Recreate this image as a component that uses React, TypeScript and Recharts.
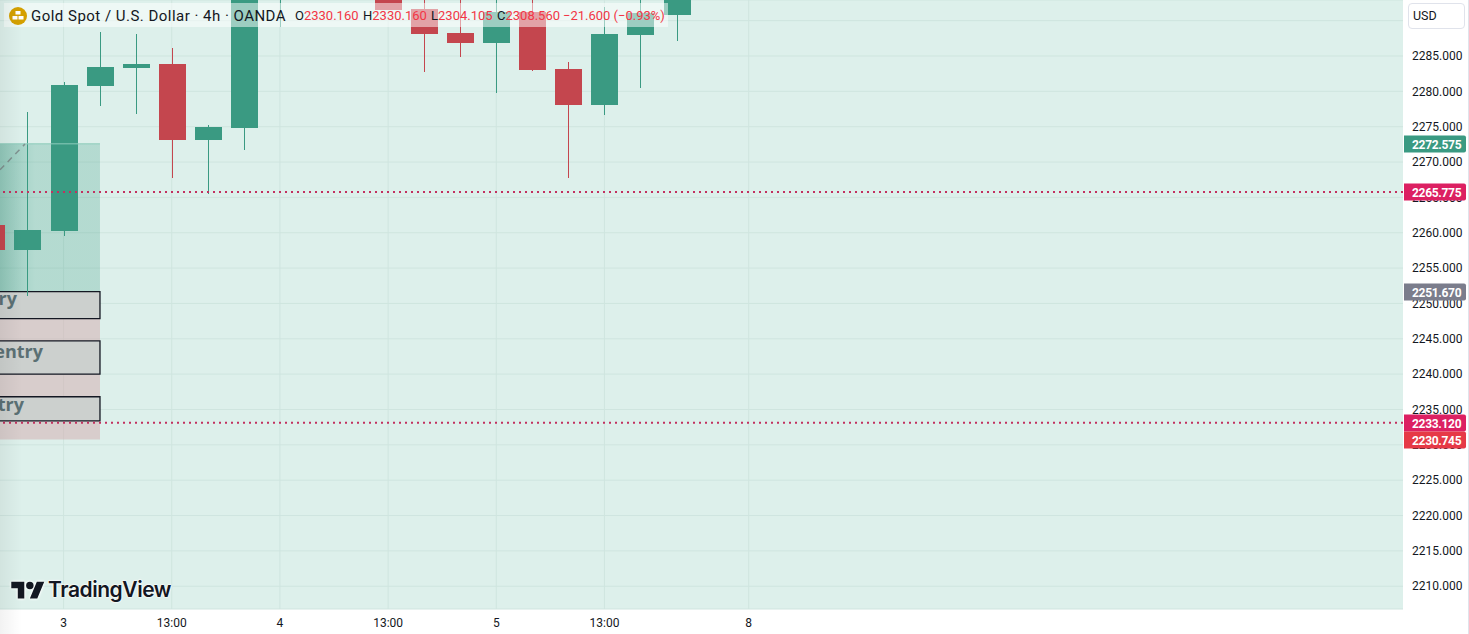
import { Bar, CartesianGrid, ComposedChart, ReferenceArea, ReferenceLine, XAxis, YAxis } from "recharts"

const slots = [0, 1, 2, 3, 4, 5, 6, 7, 8, 9, 10, 11, 12, 13, 14, 15, 16, 17, 18, 19]
const opens = [2261.1, 2257.56, 2260.25, 2280.76, 2283.3, 2283.87, 2273.1, 2274.82, 2296, 2304, 2300, 2300, 2291.65, 2288.25, 2286.84, 2291.2, 2283.16, 2278.07, 2287.97, 2290.8]
const highs = [2262, 2277.08, 2281.3, 2288.4, 2288.1, 2286.13, 2275.24, 2300, 2306, 2306, 2304, 2302, 2296, 2294, 2294, 2293.5, 2284.15, 2291.9, 2294, 2297]
const lows = [2256.5, 2251.05, 2259.5, 2277.93, 2276.8, 2267.74, 2265.48, 2271.7, 2289.1, 2299, 2296, 2291.5, 2282.74, 2284.86, 2279.77, 2282.9, 2267.74, 2276.66, 2280.47, 2287.12]
const closes = [2257.56, 2260.4, 2280.9, 2283.44, 2283.87, 2273.1, 2274.96, 2298, 2304, 2300, 2302, 2291.5, 2288.1, 2286.84, 2291.2, 2283, 2278.07, 2288.1, 2291.08, 2295]

const priceTicks = [2210, 2215, 2220, 2225, 2230, 2235, 2240, 2245, 2250, 2255, 2260, 2265, 2270, 2275, 2280, 2285, 2290]
const timeTicks = [2, 5, 8, 11, 14, 17, 21]
const timeLabels = ["3", "13:00", "4", "13:00", "5", "13:00", "8"]

const candles = slots.map((slot, i) => ({
  slot,
  body: [Math.min(opens[i], closes[i]), Math.max(opens[i], closes[i])],
  wick: [lows[i], highs[i]],
  up: closes[i] >= opens[i],
}))

const UP = "#3a9a82"
const DOWN = "#c4464e"

const xDomain = [0.2374, 39.145]
const yDomain = [2206.78, 2292.92]

const profitBox = { top: 2272.575, bottom: 2251.67 }
const lossBox = { top: 2251.67, bottom: 2230.745 }
const entryBoxes = [
  { top: 2251.67, bottom: 2247.85, textEnd: 17, baseline: 305 },
  { top: 2244.7, bottom: 2240, textEnd: 43, baseline: 358 },
  { top: 2236.8, bottom: 2233.4, textEnd: 24, baseline: 411 },
]
const boxLeft = -1
const boxRight = 3.01
const dottedLines = [2265.775, 2233.12]
const badges = [
  { price: 2272.575, color: UP },
  { price: 2265.775, color: "#dc2062" },
  { price: 2251.67, color: "#7b7d8c" },
  { price: 2233.12, color: "#dc2062" },
  { price: 2230.745, color: "#e63946" },
]

function Candle({ x, y, width, height, payload }: any) {
  const top = Math.round(Math.min(y, y + height))
  const bottom = Math.round(Math.max(y, y + height))
  return <rect x={Math.round(x)} y={top} width={width} height={Math.max(bottom - top, 1)} fill={payload.up ? UP : DOWN} />
}

function PriceBadge({ viewBox, price, color }: any) {
  const y = Math.round(viewBox.y)
  return (
    <g>
      <path d={`M1404 ${y - 8.5}h60a2 2 0 0 1 2 2v13a2 2 0 0 1 -2 2h-60z`} fill={color} />
      <text x={1412} y={y + 4.5} fill="#fff" fontSize={12} fontWeight={700} letterSpacing={-0.3} fontFamily="Roboto, sans-serif">
        {price.toFixed(3)}
      </text>
    </g>
  )
}

function EntryText({ textEnd, baseline }: any) {
  return (
    <text x={textEnd} y={baseline} textAnchor="end" fill="#5b7074" fontSize={18} fontWeight={700} fontFamily="'Open Sans', sans-serif">
      entry
    </text>
  )
}

function Header() {
  const labelStyle = { position: "absolute", fontSize: 13, color: "#131722" } as const
  return (
    <div style={{ position: "absolute", left: 4, top: 3, width: 664, height: 24, background: "rgba(255,255,255,0.5)", fontFamily: "Roboto, sans-serif", fontSize: 14, lineHeight: "26px", whiteSpace: "nowrap" }}>
      <svg width={18} height={18} style={{ position: "absolute", left: 5, top: 4 }}>
        <circle cx={9} cy={9} r={9} fill="#d4a000" />
        <rect x={6.5} y={4} width={5} height={3.5} fill="#fff" />
        <rect x={3.5} y={9} width={5} height={3.5} fill="#fff" />
        <rect x={9.5} y={9} width={5} height={3.5} fill="#fff" />
      </svg>
      <span style={{ position: "absolute", left: 27, color: "#131722", fontSize: 15, letterSpacing: 0.48 }}>Gold Spot / U.S. Dollar · 4h · OANDA</span>
      <span style={{ ...labelStyle, left: 291 }}>O<span style={{ color: "#f23645" }}>2330.160</span></span>
      <span style={{ ...labelStyle, left: 359 }}>H<span style={{ color: "#f23645" }}>2330.160</span></span>
      <span style={{ ...labelStyle, left: 427 }}>L<span style={{ color: "#f23645" }}>2304.105</span></span>
      <span style={{ ...labelStyle, left: 493 }}>C<span style={{ color: "#f23645" }}>2308.560</span></span>
      <span style={{ ...labelStyle, left: 559, color: "#f23645" }}>−21.600 (−0.93%)</span>
    </div>
  )
}

function Watermark() {
  return (
    <div style={{ position: "absolute", left: 11, top: 578, height: 24, color: "#131722" }}>
      <svg width={34} height={26} viewBox="0 0 36 28" style={{ position: "absolute", left: 0, top: 0, filter: "drop-shadow(0 0 1px #fff) drop-shadow(0 0 1px #fff)" }}>
        <path d="M14 22H7V11H0V4h14v18zM28 22h-8l7.500-18h8L28 22z" fill="#131722" />
        <circle cx={20} cy={8} r={4} fill="#131722" />
      </svg>
      <span style={{ position: "absolute", left: 37, top: 0, fontFamily: "Inter, sans-serif", fontSize: 21, fontWeight: 600, lineHeight: "24px", letterSpacing: -0.45, whiteSpace: "nowrap", textShadow: "0 0 2px #fff, 0 0 2px #fff, 0 0 2px #fff" }}>TradingView</span>
    </div>
  )
}

export default function App() {
  return (
    <div style={{ position: "absolute", left: 0, top: 0, width: 1469, height: 634, background: "#fff", overflow: "hidden" }}>
      <ComposedChart width={1469} height={634} data={candles} margin={{ top: 0, right: 0, bottom: 0, left: 0 }}>
        <defs>
          <linearGradient id="profitFade" x1="0" y1="0" x2="1" y2="0">
            <stop offset="27%" stopColor={UP} stopOpacity={0.5} />
            <stop offset="55%" stopColor={UP} stopOpacity={0.25} />
          </linearGradient>
        </defs>
        <CartesianGrid xAxisId="body" stroke="#cfe5df" fill="#ddf0eb" fillOpacity={1} verticalValues={timeTicks} />
        <XAxis
          xAxisId="body"
          dataKey="slot"
          type="number"
          domain={xDomain}
          allowDataOverflow
          ticks={timeTicks}
          tickFormatter={(v) => timeLabels[timeTicks.indexOf(v)]}
          tick={{ fontSize: 12, fill: "#131722", fontFamily: "Roboto, sans-serif" }}
          axisLine={false}
          tickLine={false}
          height={25}
          tickMargin={3}
          interval={0}
        />
        <XAxis xAxisId="wick" dataKey="slot" type="number" domain={xDomain} allowDataOverflow hide />
        <YAxis
          orientation="right"
          domain={yDomain}
          allowDataOverflow
          ticks={priceTicks}
          tickFormatter={(v) => v.toFixed(3)}
          tick={{ fontSize: 12, fill: "#131722", fontFamily: "Roboto, sans-serif" }}
          axisLine={false}
          tickLine={false}
          width={66}
          tickMargin={3}
          interval={0}
        />
        <ReferenceArea xAxisId="body" x1={boxLeft} x2={boxRight} y1={profitBox.bottom} y2={profitBox.top} fill="url(#profitFade)" fillOpacity={1} stroke="none" ifOverflow="visible" />
        <ReferenceArea xAxisId="body" x1={boxLeft} x2={boxRight} y1={lossBox.bottom} y2={lossBox.top} fill="#d3aaad" fillOpacity={0.5} stroke="none" ifOverflow="visible" />
        {entryBoxes.map((box) => (
          <ReferenceArea
            key={box.top}
            xAxisId="body"
            x1={boxLeft}
            x2={boxRight}
            y1={box.bottom}
            y2={box.top}
            fill="#ccd0ce"
            fillOpacity={1}
            stroke="#131722"
            strokeOpacity={1}
            strokeWidth={1.3}
            ifOverflow="visible"
            label={<EntryText textEnd={box.textEnd} baseline={box.baseline} />}
          />
        ))}
        <ReferenceLine
          xAxisId="body"
          segment={[{ x: boxLeft, y: profitBox.top }, { x: boxRight, y: profitBox.top }]}
          stroke="#8ccbbb"
          strokeOpacity={1}
          ifOverflow="visible"
        />
        <ReferenceLine
          xAxisId="body"
          segment={[{ x: 0.2374, y: 2268.9 }, { x: 0.93, y: 2272.55 }]}
          stroke="#7f918f"
          strokeOpacity={1}
          strokeWidth={1.5}
          strokeDasharray="6 5"
        />
        {dottedLines.map((price) => (
          <ReferenceLine key={price} xAxisId="body" y={price} stroke="#c2305f" strokeOpacity={1} strokeWidth={2} strokeDasharray="2 4" />
        ))}
        <Bar xAxisId="wick" dataKey="wick" barSize={1} isAnimationActive={false} shape={<Candle />} />
        <Bar xAxisId="body" dataKey="body" barSize={27} isAnimationActive={false} shape={<Candle />} />
      </ComposedChart>
      {/* second layer so the price badges sit on top of the axis ticks */}
      <div style={{ position: "absolute", left: 0, top: 0 }}>
        <ComposedChart width={1469} height={634} data={candles} margin={{ top: 0, right: 66, bottom: 25, left: 0 }}>
          <XAxis dataKey="slot" type="number" domain={xDomain} allowDataOverflow hide />
          <YAxis domain={yDomain} allowDataOverflow hide />
          {badges.map((b) => (
            <ReferenceLine key={b.price} y={b.price} stroke="none" label={<PriceBadge price={b.price} color={b.color} />} />
          ))}
        </ComposedChart>
      </div>
      <Header />
      <Watermark />
      <div style={{ position: "absolute", left: 0, top: 0, width: 22, height: 634, background: "linear-gradient(to right, rgba(0,0,0,0.05), rgba(0,0,0,0))" }} />
      <div style={{ position: "absolute", left: 1408, top: 3, width: 57, height: 26, boxSizing: "border-box", background: "#fff", border: "1px solid #e0e3eb", borderRadius: 4, fontFamily: "Roboto, sans-serif", fontSize: 12.5, lineHeight: "24px", paddingLeft: 4, color: "#131722" }}>USD</div>
      <div style={{ position: "absolute", left: 1468, top: 0, width: 1, height: 634, background: "#e0e3eb" }} />
    </div>
  )
}
